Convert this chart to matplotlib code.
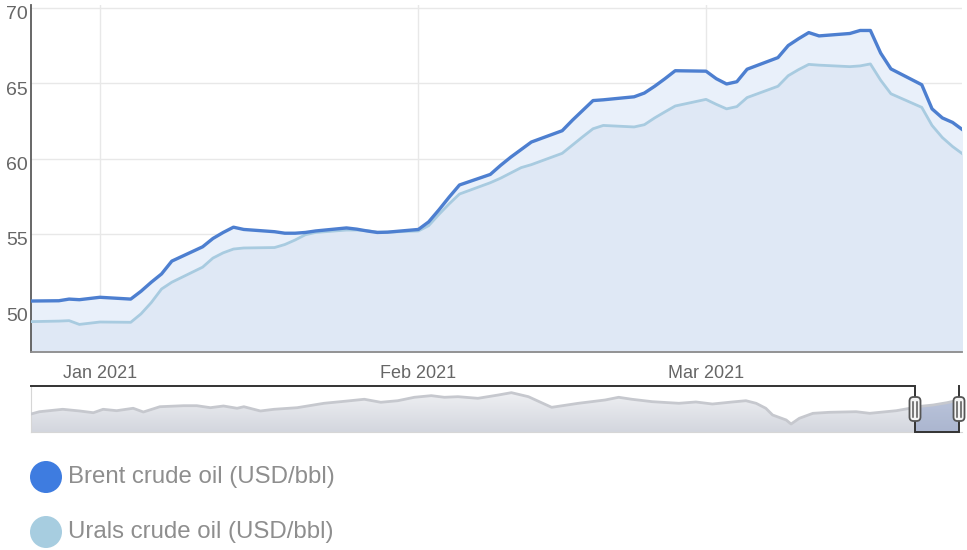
import matplotlib
matplotlib.use("Agg")
import matplotlib.pyplot as plt
import matplotlib.dates as mdates
import numpy as np
import pandas as pd
from matplotlib.transforms import ScaledTranslation, IdentityTransform
from matplotlib.patches import FancyBboxPatch, Circle, PathPatch
from matplotlib.colors import LinearSegmentedColormap

plt.rcParams['font.family'] = ['Liberation Sans', 'DejaVu Sans']

# ---------------- data ----------------
dates = ["2020-12-25", "2020-12-28", "2020-12-29", "2020-12-30", "2020-12-31", "2021-01-01",
         "2021-01-04", "2021-01-05", "2021-01-06", "2021-01-07", "2021-01-08",
         "2021-01-11", "2021-01-12", "2021-01-13", "2021-01-14", "2021-01-15",
         "2021-01-18", "2021-01-19", "2021-01-20", "2021-01-21", "2021-01-22",
         "2021-01-25", "2021-01-26", "2021-01-27", "2021-01-28", "2021-01-29",
         "2021-02-01", "2021-02-02", "2021-02-03", "2021-02-04", "2021-02-05",
         "2021-02-08", "2021-02-09", "2021-02-10", "2021-02-11", "2021-02-12",
         "2021-02-15", "2021-02-16", "2021-02-17", "2021-02-18", "2021-02-19",
         "2021-02-22", "2021-02-23", "2021-02-24", "2021-02-25", "2021-02-26",
         "2021-03-01", "2021-03-02", "2021-03-03", "2021-03-04", "2021-03-05",
         "2021-03-08", "2021-03-09", "2021-03-10", "2021-03-11", "2021-03-12",
         "2021-03-15", "2021-03-16", "2021-03-17", "2021-03-18", "2021-03-19",
         "2021-03-22", "2021-03-23", "2021-03-24", "2021-03-25", "2021-03-26"]

brent = [50.55, 50.57, 50.68, 50.64, 50.72, 50.80,
         50.68, 51.20, 51.80, 52.35, 53.20,
         54.15, 54.70, 55.10, 55.45, 55.30,
         55.15, 55.05, 55.05, 55.10, 55.20,
         55.40, 55.32, 55.20, 55.10, 55.12,
         55.30, 55.80, 56.60, 57.45, 58.25,
         58.95, 59.55, 60.10, 60.60, 61.10,
         61.85, 62.55, 63.20, 63.85, 63.90,
         64.10, 64.35, 64.80, 65.30, 65.83,
         65.80, 65.30, 64.95, 65.10, 65.93,
         66.70, 67.50, 67.95, 68.36, 68.14,
         68.30, 68.50, 68.50, 67.00, 65.95,
         64.90, 63.30, 62.70, 62.40, 61.90]

urals = [49.18, 49.22, 49.25, 49.00, 49.08, 49.16,
         49.14, 49.70, 50.45, 51.35, 51.80,
         52.80, 53.40, 53.75, 54.00, 54.07,
         54.10, 54.30, 54.60, 54.95, 55.10,
         55.26, 55.26, 55.22, 55.12, 55.12,
         55.20, 55.55, 56.30, 57.00, 57.65,
         58.40, 58.70, 59.05, 59.40, 59.60,
         60.35, 60.90, 61.45, 61.98, 62.20,
         62.10, 62.25, 62.70, 63.10, 63.49,
         63.93, 63.60, 63.30, 63.45, 64.05,
         64.80, 65.50, 65.90, 66.25, 66.20,
         66.10, 66.15, 66.28, 65.20, 64.30,
         63.40, 62.20, 61.40, 60.80, 60.30]

nav_dates = ["2015-12-24", "2016-01-18", "2016-03-06", "2016-04-10", "2016-05-08", "2016-05-28",
             "2016-06-25", "2016-07-29", "2016-08-19", "2016-09-22", "2016-11-10", "2016-12-07",
             "2017-01-04", "2017-01-31", "2017-02-28", "2017-03-14", "2017-04-17", "2017-05-15",
             "2017-07-02", "2017-08-26", "2017-10-13", "2017-11-17", "2017-12-21", "2018-01-25",
             "2018-02-28", "2018-04-04", "2018-05-01", "2018-05-29", "2018-07-09", "2018-08-20",
             "2018-09-16", "2018-10-21", "2018-11-17", "2018-12-08", "2019-02-01", "2019-03-28",
             "2019-04-25", "2019-05-22", "2019-07-03", "2019-08-27", "2019-10-01", "2019-11-04",
             "2019-12-15", "2020-01-12", "2020-02-02", "2020-02-22", "2020-03-07", "2020-04-04",
             "2020-04-14", "2020-05-01", "2020-05-29", "2020-07-02", "2020-08-26", "2020-09-23",
             "2020-11-17", "2020-12-15", "2020-12-29", "2021-02-01", "2021-03-01", "2021-03-26"]
nav_values = [37.0, 42.5, 46.5, 43.7, 40.8, 46.5,
              44.2, 48.2, 42.0, 50.8, 52.5, 52.5,
              49.2, 52.0, 48.2, 50.8, 43.7, 46.5,
              49.2, 56.5, 60.3, 63.2, 58.2, 60.8,
              66.5, 69.2, 66.5, 67.5, 64.8, 70.3,
              74.2, 67.5, 57.5, 49.8, 56.5, 62.0,
              66.5, 63.2, 59.2, 56.5, 58.7, 55.3,
              58.7, 60.8, 56.5, 48.2, 37.0, 28.7,
              22.0, 31.5, 39.8, 41.5, 42.5, 39.8,
              44.2, 48.2, 50.8, 53.7, 57.5, 62.0]

y_ticks = [50, 55, 60, 65, 70]
x_tick_dates = ["2021-01-01", "2021-02-01", "2021-03-01"]
x_tick_labels = ["Jan 2021", "Feb 2021", "Mar 2021"]
series_names = ["Brent crude oil (USD/bbl)", "Urals crude oil (USD/bbl)"]

# ---------------- figure ----------------
W, H = 967, 550
fig = plt.figure(figsize=(W / 100, H / 100), dpi=100)
fig.patch.set_facecolor("white")

def fx(px):
    return px / W

def fy(py):
    return 1 - py / H

x = mdates.date2num(pd.to_datetime(dates))
view_lo = mdates.date2num(pd.Timestamp("2020-12-25 07:00"))
view_hi = mdates.date2num(pd.Timestamp("2021-03-25 22:00"))

ax = fig.add_axes([fx(31), fy(352), fx(962) - fx(31), fy(5) - fy(352)])
ax.set_facecolor("white")
ymin, ymax = 47.17, 70.19
ax.fill_between(x, ymin, brent, color="#e9f0fa", lw=0, zorder=1)
ax.fill_between(x, ymin, urals, color="#dfe8f5", lw=0, zorder=1.1)
ax.plot(x, urals, color="#a8cbe0", lw=2.0, zorder=3, solid_joinstyle="round")
ax.plot(x, brent, color="#4d7fd0", lw=2.4, zorder=4, solid_joinstyle="round")
ax.set_xlim(view_lo, view_hi)
ax.set_ylim(ymin, ymax)

ax.set_yticks(y_ticks)
ax.set_yticklabels([str(v) for v in y_ticks])
ax.set_xticks(mdates.date2num(pd.to_datetime(x_tick_dates)))
ax.set_xticklabels(x_tick_labels)
ax.grid(True, color="#e8e8e8", lw=1.0, zorder=0)
ax.set_axisbelow(True)
ax.tick_params(axis="both", length=0, labelcolor="#666666")
ax.tick_params(axis="y", pad=2, labelsize=14)
ax.tick_params(axis="x", pad=9, labelsize=13)
offset = ScaledTranslation(0, -5 / 100, fig.dpi_scale_trans)
for lab in ax.get_yticklabels():
    lab.set_transform(lab.get_transform() + offset)
for s in ["top", "right"]:
    ax.spines[s].set_visible(False)
ax.spines["left"].set_color("#5c5c5c")
ax.spines["left"].set_linewidth(1.3)
ax.spines["bottom"].set_color("#8c8c8c")
ax.spines["bottom"].set_linewidth(1.3)

# ---------------- navigator ----------------
nav = fig.add_axes([fx(31), fy(432), fx(962) - fx(31), fy(386) - fy(432)])
nx = mdates.date2num(pd.to_datetime(nav_dates))
# place the selected window at 915..959 px within the 31..962 px navigator
f_lo, f_hi = (915 - 31) / 931, (959 - 31) / 931
span = (view_hi - view_lo) / (f_hi - f_lo)
nlo = view_lo - f_lo * span
nhi = nlo + span
nymin, nymax = 8.7, 85.3
nav.set_xlim(nlo, nhi)
nav.set_ylim(nymin, nymax)
poly = nav.fill_between(nx, nymin, nav_values, color="none", lw=0)
clip = PathPatch(poly.get_paths()[0], transform=nav.transData, facecolor="none", edgecolor="none")
nav.add_patch(clip)
cmap = LinearSegmentedColormap.from_list("g", ["#f3f4f6", "#d3d6de"])
grad = np.linspace(0, 1, 256).reshape(-1, 1)
im = nav.imshow(grad, extent=[nlo, nhi, nymin, nymax], aspect="auto", cmap=cmap, origin="upper", zorder=1)
im.set_clip_path(clip)
sel = nav.axvspan(view_lo, view_hi, color="#6b82b8", alpha=0.38, lw=0, zorder=2)
sel.set_clip_path(clip)
nav.plot(nx, nav_values, color="#c6c8ce", lw=2.0, zorder=3)
nav.set_xticks([])
nav.set_yticks([])
for s in ["top", "right"]:
    nav.spines[s].set_visible(False)
nav.spines["left"].set_color("#d6d6d6")
nav.spines["bottom"].set_color("#d6d6d6")

# outline
nav.plot([nlo, view_lo, view_lo, view_hi, view_hi], [nymax, nymax, nymin, nymin, nymax],
         color="#333333", lw=1.4, zorder=5, clip_on=False, solid_joinstyle="miter")

# handles
fig.canvas.draw()
for hx in [view_lo, view_hi]:
    px, _ = nav.transData.transform((hx, nymin))
    cy = fy(409) * H
    bw, bh = 11, 24
    box = FancyBboxPatch((px - bw / 2, cy - bh / 2), bw, bh, boxstyle="round,pad=0,rounding_size=4",
                         facecolor="#f4f4f4", edgecolor="#555555", lw=1.3,
                         transform=IdentityTransform(), zorder=10)
    fig.add_artist(box)
    for dx in (-1.8, 1.8):
        fig.add_artist(plt.Line2D([px + dx, px + dx], [cy - 7.5, cy + 7.5], color="#555555", lw=1.1,
                                  transform=IdentityTransform(), zorder=11))

# ---------------- legend ----------------
legend_colors = ["#3e7ce0", "#a7cde0"]
legend_y = [477, 532]
for name, col, ly in zip(series_names, legend_colors, legend_y):
    fig.add_artist(Circle((46, H - ly), 16, transform=IdentityTransform(), facecolor=col,
                          edgecolor="none", zorder=10))
    fig.text(fx(68), fy(ly), name, va="center", ha="left", fontsize=17.3, color="#8e8e8e")

fig.savefig("out.png", dpi=100, facecolor="white")
